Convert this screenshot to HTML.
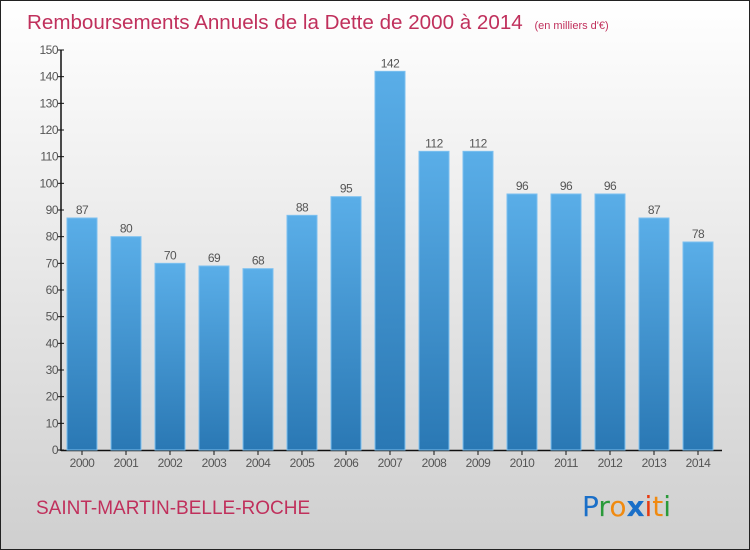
<!DOCTYPE html>
<html><head><meta charset="utf-8"><style>
body{margin:0}
#c{position:relative;width:750px;height:550px;box-sizing:border-box;border:1px solid #222;background:linear-gradient(#ffffff,#cfcfcf);font-family:"Liberation Sans",sans-serif;overflow:hidden}
</style></head><body>
<div id="c">
<svg id="s" width="750" height="550" style="position:absolute;left:-1px;top:-1px">
<defs><linearGradient id="g" x1="0" y1="0" x2="0" y2="1"><stop offset="0" stop-color="#5aaee8"/><stop offset="1" stop-color="#2a78b4"/></linearGradient></defs>
<text x="27" y="29" font-size="20.6" fill="#c0305c">Remboursements Annuels de la Dette de 2000 à 2014 <tspan font-size="11" dx="6">(en milliers d'€)</tspan></text>
<text x="36" y="514" font-size="19" fill="#c0305c">SAINT-MARTIN-BELLE-ROCHE</text>
<g font-size="28" font-family="'DejaVu Sans',sans-serif">
<text x="582" y="516"><tspan fill="#1a6fc8">P</tspan><tspan fill="#2a9a3a">r</tspan><tspan fill="#f08a10">o</tspan><tspan fill="#1a6fc8" font-weight="bold">x</tspan><tspan fill="#e83a10">i</tspan><tspan fill="#f08a10">t</tspan><tspan fill="#2a9a3a">i</tspan></text></g>
<g id="plot"></g>
</svg>
</div>
<script>
const years=["2000","2001","2002","2003","2004","2005","2006","2007","2008","2009","2010","2011","2012","2013","2014"];
const values=[87,80,70,69,68,88,95,142,112,112,96,96,96,87,78];
const ticks=[0,10,20,30,40,50,60,70,80,90,100,110,120,130,140,150];
const ns="http://www.w3.org/2000/svg";
const p=document.getElementById('plot');
const y=v=>450-v*400/150, x=i=>82+i*44;
function mk(t,a,txt){const e=document.createElementNS(ns,t);for(const k in a)e.setAttribute(k,a[k]);if(txt!=null)e.textContent=txt;p.appendChild(e);return e;}
let ax=mk('line',{x1:61,y1:50,x2:61,y2:451,stroke:'#111','stroke-width':1.5});


let bx=mk('line',{x1:61,y1:450.5,x2:722,y2:450.5,stroke:'#111','stroke-width':1.5});


ticks.forEach(t=>{
 let l=mk('line',{x1:58,y1:y(t),x2:64,y2:y(t),stroke:'#111'});
 
 
 let tx=mk('text',{x:58,y:y(t)+4,'text-anchor':'end','font-size':12,fill:'#555','letter-spacing':'-0.5'},t);
 
 
});
values.forEach((v,i)=>{
 let r=mk('rect',{x:x(i)-15,y:y(v),width:30,height:450-y(v),fill:'url(#g)',stroke:'#7cc0f0','stroke-width':1});
 
 
 let t=mk('text',{x:x(i),y:y(v)-4,'text-anchor':'middle','font-size':12,fill:'#555','letter-spacing':'-0.5'},v);
 
 
 let tk=mk('line',{x1:x(i),y1:451,x2:x(i),y2:455,stroke:'#111'});
 
 
 let yl=mk('text',{x:x(i),y:467,'text-anchor':'middle','font-size':12,fill:'#555','letter-spacing':'-0.5'},years[i]);
 
 
});
</script>
</body></html>
